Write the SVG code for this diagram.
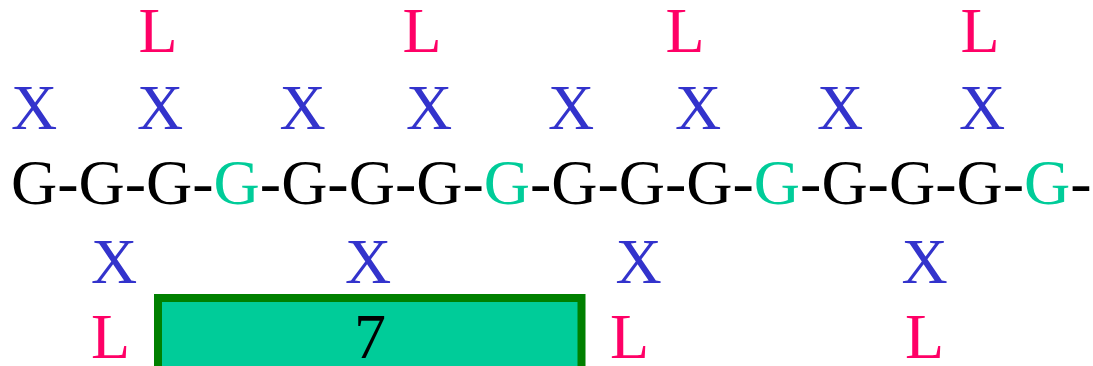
<svg xmlns="http://www.w3.org/2000/svg" width="1093" height="366" viewBox="0 0 1093 366">
<style>
text{font-family:"Liberation Serif","Times New Roman",serif;font-size:64px}
.x{fill:#3333CC;text-anchor:middle}
.l{fill:#FF0066;text-anchor:middle}
.g{fill:#00CC99}
.k{fill:#000000}
.box{fill:#00CC99;stroke:#008000;stroke-width:8}
</style>
<rect width="1093" height="366" fill="#ffffff"/>
<g id="top-L">
<text class="l" x="158" y="52">L</text>
<text class="l" x="422" y="52">L</text>
<text class="l" x="685" y="52">L</text>
<text class="l" x="980" y="52">L</text>
</g>
<g id="top-X">
<text class="x" x="34" y="129">X</text>
<text class="x" x="160" y="129">X</text>
<text class="x" x="302.5" y="129">X</text>
<text class="x" x="429" y="129">X</text>
<text class="x" x="571" y="129">X</text>
<text class="x" x="698" y="129">X</text>
<text class="x" x="840" y="129">X</text>
<text class="x" x="982" y="129">X</text>
</g>
<g id="chain">
<text class="k" x="11" y="204">G-G-G-<tspan class="g">G</tspan>-G-G-G-<tspan class="g">G</tspan>-G-G-G-<tspan class="g">G</tspan>-G-G-G-<tspan class="g">G</tspan>-</text>
</g>
<g id="bottom-X">
<text class="x" x="114" y="283">X</text>
<text class="x" x="368" y="283">X</text>
<text class="x" x="638.5" y="283">X</text>
<text class="x" x="924.5" y="283">X</text>
</g>
<g id="bottom-L">
<text class="l" x="110.5" y="358">L</text>
<text class="l" x="629.5" y="358">L</text>
<text class="l" x="924.5" y="358">L</text>
</g>
<g id="box7">
<rect class="box" x="158" y="298" width="423.5" height="90"/>
<text class="k" x="370" y="358" text-anchor="middle">7</text>
</g>
</svg>
